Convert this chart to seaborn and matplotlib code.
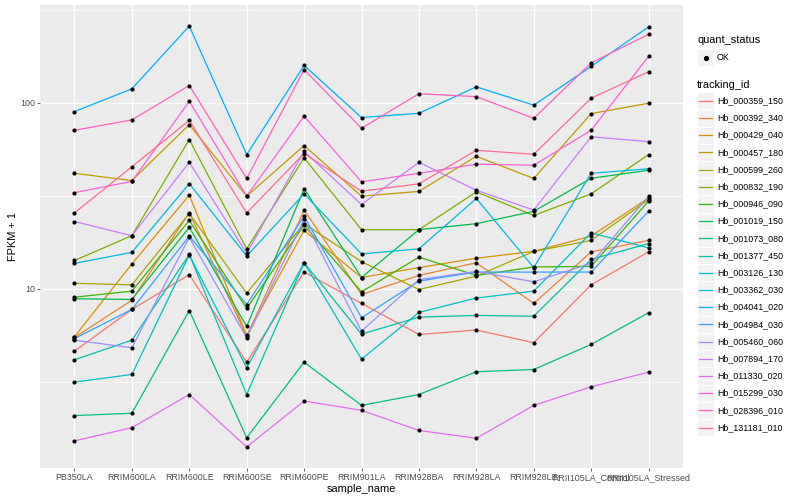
import numpy as np
import pandas as pd
import matplotlib
matplotlib.use('Agg')
import matplotlib.pyplot as plt
import seaborn as sns
from matplotlib.patches import Rectangle
from matplotlib.lines import Line2D

# sample order on the x axis
sample_names = ['PB350LA', 'RRIM600LA', 'RRIM600LE', 'RRIM600SE', 'RRIM600PE', 'RRIM901LA',
                'RRIM928BA', 'RRIM928LA', 'RRIM928LE', 'RRII105LA_Control', 'RRII105LA_Stressed']

tracking_ids = ['Hb_000359_150', 'Hb_000392_340', 'Hb_000429_040', 'Hb_000457_180',
                'Hb_000599_260', 'Hb_000832_190', 'Hb_000946_090', 'Hb_001019_150',
                'Hb_001073_080', 'Hb_001377_450', 'Hb_003126_130', 'Hb_003362_030',
                'Hb_004041_020', 'Hb_004984_030', 'Hb_005460_060', 'Hb_007894_170',
                'Hb_011330_020', 'Hb_015299_030', 'Hb_028396_010', 'Hb_131181_010']

# FPKM + 1 per gene, one value per sample
hb_000359_150 = [4.62, 7.74, 11.9, 4.03, 12.3, 8.34, 5.68, 6.00, 5.13, 10.5, 15.8]
hb_000392_340 = [5.47, 8.68, 25.7, 5.54, 26.5, 9.32, 11.8, 13.8, 8.34, 15.8, 18.2]
hb_000429_040 = [5.52, 13.6, 31.9, 5.61, 20.6, 11.5, 13.0, 14.6, 15.9, 19.2, 30.8]
hb_000457_180 = [41.8, 38.2, 76.4, 31.5, 58.9, 31.5, 33.4, 51.6, 39.2, 87.6, 99.5]
hb_000599_260 = [10.7, 10.5, 25.4, 9.47, 22.4, 14.0, 9.91, 11.7, 15.9, 18.2, 30.2]
hb_000832_190 = [14.2, 19.3, 63.5, 16.4, 50.6, 20.8, 20.8, 33.2, 24.8, 32.4, 52.7]
hb_000946_090 = [9.01, 9.71, 23.3, 7.84, 22.0, 9.63, 14.8, 11.8, 13.1, 13.2, 29.6]
hb_001019_150 = [8.84, 8.76, 21.4, 6.27, 34.5, 11.5, 20.8, 22.4, 26.1, 39.3, 43.4]
hb_001073_080 = [2.08, 2.14, 7.64, 1.58, 4.03, 2.36, 2.70, 3.58, 3.68, 5.02, 7.43]
hb_001377_450 = [4.15, 5.29, 15.3, 2.70, 13.8, 5.70, 7.04, 7.19, 7.12, 14.4, 17.5]
hb_003126_130 = [3.15, 3.46, 15.2, 3.76, 13.8, 4.18, 7.46, 8.92, 9.71, 20.0, 16.6]
hb_003362_030 = [13.7, 15.7, 36.8, 15.0, 32.4, 15.4, 16.4, 30.6, 13.0, 41.8, 44.2]
hb_004041_020 = [89.8, 119, 259, 52.7, 159, 83.4, 87.9, 122, 97.2, 157, 256]
hb_004984_030 = [5.40, 7.74, 19.2, 8.23, 24.6, 6.99, 11.0, 12.3, 12.3, 12.3, 26.1]
hb_005460_060 = [5.29, 4.82, 18.9, 5.45, 23.6, 5.92, 11.2, 12.4, 10.9, 13.7, 31.5]
hb_007894_170 = [23.0, 19.3, 47.9, 15.5, 54.9, 28.4, 47.9, 33.9, 26.5, 65.7, 61.9]
hb_011330_020 = [1.52, 1.79, 2.70, 1.41, 2.49, 2.22, 1.73, 1.57, 2.36, 2.97, 3.56]
hb_015299_030 = [32.9, 37.8, 102, 31.5, 84.7, 37.6, 41.8, 46.8, 46.2, 71.2, 178]
hb_028396_010 = [71.2, 81.0, 124, 39.2, 151, 73.0, 112, 108, 82.6, 164, 234]
hb_131181_010 = [25.6, 45.3, 80.6, 25.6, 53.4, 33.5, 36.7, 55.6, 52.9, 106, 147]

series = [hb_000359_150, hb_000392_340, hb_000429_040, hb_000457_180, hb_000599_260,
          hb_000832_190, hb_000946_090, hb_001019_150, hb_001073_080, hb_001377_450,
          hb_003126_130, hb_003362_030, hb_004041_020, hb_004984_030, hb_005460_060,
          hb_007894_170, hb_011330_020, hb_015299_030, hb_028396_010, hb_131181_010]

# ggplot default hue palette, 20 levels
hue_colors = ['#F8766D', '#EA8331', '#D89000', '#C09B00', '#A3A500', '#7CAE00', '#39B600',
              '#00BB4E', '#00BF7D', '#00C1A3', '#00BFC4', '#00BAE0', '#00B0F6', '#35A2FF',
              '#9590FF', '#C77CFF', '#E76BF3', '#FA62DB', '#FF62BC', '#FF6C91']

rows = []
for tid, vals in zip(tracking_ids, series):
    for s, v in zip(sample_names, vals):
        rows.append({'tracking_id': tid, 'sample_name': s, 'fpkm': v, 'quant_status': 'OK'})
df = pd.DataFrame(rows)

plt.rcParams['font.family'] = ['Liberation Sans', 'DejaVu Sans']

W, H = 800, 500
fig = plt.figure(figsize=(8, 5), dpi=100)
ax = fig.add_axes([40 / W, 1 - 468 / H, 643 / W, 463 / H])
ax.set_facecolor('#EBEBEB')

sns.lineplot(data=df, x='sample_name', y='fpkm', hue='tracking_id',
             palette=dict(zip(tracking_ids, hue_colors)), sort=False,
             errorbar=None, linewidth=0.9, legend=False, ax=ax, zorder=2)
sns.scatterplot(data=df, x='sample_name', y='fpkm', color='black', s=9,
                linewidth=0, legend=False, ax=ax, zorder=3)

ax.set_yscale('log')
lo, hi = np.log10(df['fpkm'].min()), np.log10(df['fpkm'].max())
pad = (hi - lo) * 0.05
ax.set_ylim(10 ** (lo - pad), 10 ** (hi + pad))
ax.set_xlim(-0.6, len(sample_names) - 0.4)

ax.set_yticks([10, 100])
ax.set_yticklabels(['10', '100'])
ax.set_yticks([10 ** 0.5, 10 ** 1.5, 10 ** 2.5], minor=True)
ax.set_yticklabels([], minor=True)
ax.set_xticks(range(len(sample_names)))
ax.set_xticklabels(sample_names)

ax.grid(True, which='major', color='white', linewidth=0.9)
ax.grid(True, which='minor', axis='y', color='white', linewidth=0.45)
ax.set_axisbelow(True)
for sp in ax.spines.values():
    sp.set_visible(False)
ax.tick_params(axis='both', which='major', length=2.0, width=0.55, color='#333333',
               labelsize=6.4, labelcolor='#4D4D4D', pad=1.6)
ax.tick_params(axis='y', which='minor', length=0)

ax.set_xlabel('')
ax.set_ylabel('')
fig.text(361.5 / W, 1 - 489 / H, 'sample_name', ha='center', va='center', fontsize=7.9)
fig.text(13 / W, 1 - 236.5 / H, 'FPKM + 1', ha='center', va='center', rotation=90, fontsize=7.9)

# legends drawn like ggplot guides
def px(x, y):
    return x / W, 1 - y / H

fig.text(*px(697, 40), 'quant_status', ha='left', va='center', fontsize=7.9)
kx, kw, kh = 697, 17, 17.2
fig.add_artist(Rectangle(px(kx, 57.5 + kh / 2), kw / W, kh / H, transform=fig.transFigure,
                         facecolor='#F2F2F2', edgecolor='white', linewidth=0.5))
fig.add_artist(Line2D([px(705.5, 57.5)[0]], [px(705.5, 57.5)[1]], marker='o', markersize=2.8,
                      color='black', linestyle='none', transform=fig.transFigure))
fig.text(*px(717, 57.5), 'OK', ha='left', va='center', fontsize=6.4)

fig.text(*px(697, 85), 'tracking_id', ha='left', va='center', fontsize=7.9)
for i, (tid, col) in enumerate(zip(tracking_ids, hue_colors)):
    yc = 100.8 + 17.2 * i
    fig.add_artist(Rectangle(px(kx, yc + kh / 2), kw / W, kh / H, transform=fig.transFigure,
                             facecolor='#F2F2F2', edgecolor='white', linewidth=0.5))
    x0, y0 = px(699, yc)
    x1, _ = px(712, yc)
    fig.add_artist(Line2D([x0, x1], [y0, y0], color=col, linewidth=0.9,
                          transform=fig.transFigure))
    fig.text(*px(717, yc), tid, ha='left', va='center', fontsize=6.4)

fig.savefig('out.png', dpi=100)
